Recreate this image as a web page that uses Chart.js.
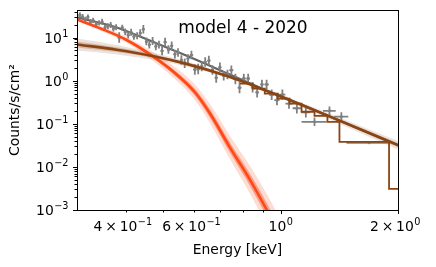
<!DOCTYPE html>
<html>
<head>
<meta charset="utf-8">
<script src="https://cdn.jsdelivr.net/npm/chart.js@4.4.1/dist/chart.umd.min.js"></script>
<style>
  html, body { margin: 0; padding: 0; background: #fff; }
</style>
</head>
<body>
<canvas id="spec" width="436" height="267"></canvas>
<script>
// thermal component (red) with its two confidence bands
const thermE = [0.30, 0.345, 0.40, 0.463, 0.537, 0.603, 0.659, 0.741, 0.834, 0.921, 0.994];
const thermV = [26.2, 16.2, 9.0, 4.0, 1.46, 0.53, 0.17, 0.028, 0.005, 0.001, 0.00026];
const thermOuterHi = [28.7, 18.2, 10.6, 5.04, 2.01, 0.80, 0.282, 0.0521, 0.01045, 0.00234, 0.000653];
const thermOuterLo = [23.9, 14.4, 7.66, 3.18, 1.06, 0.35, 0.102, 0.0150, 0.00239, 0.000427, 0.000104];
const thermInnerHi = [27.1, 16.9, 9.64, 4.44, 1.67, 0.637, 0.214, 0.0369, 0.0069, 0.00145, 0.000394];
const thermInnerLo = [25.3, 15.5, 8.39, 3.61, 1.27, 0.441, 0.135, 0.0212, 0.00362, 0.00069, 0.000172];

// power-law component (brown)
const plE = [0.30, 0.379, 0.472, 0.570, 0.732, 0.909, 1.054, 1.335, 2.05];
const plV = [6.9, 5.22, 3.68, 2.48, 1.26, 0.604, 0.355, 0.148, 0.029];
const plOuterHi = [9.5, 6.73, 4.43, 2.84, 1.38, 0.662, 0.398, 0.174, 0.0365];
const plOuterLo = [5.0, 4.06, 3.06, 2.16, 1.15, 0.551, 0.316, 0.126, 0.023];
const plInnerHi = [8.1, 5.93, 4.04, 2.65, 1.32, 0.632, 0.376, 0.160, 0.0325];
const plInnerLo = [5.9, 4.60, 3.36, 2.31, 1.21, 0.577, 0.335, 0.136, 0.0259];

// total model
const totE = [0.30, 0.379, 0.481, 0.588, 0.741, 0.909, 1.15, 1.335, 2.05];
const totV = [29.5, 17.1, 7.25, 3.43, 1.38, 0.618, 0.26, 0.148, 0.029];

// folded power law, binned (left bin edges, last = end)
const stepE = [0.786, 0.848, 0.910, 0.983, 1.054, 1.131, 1.221, 1.318, 1.415, 1.897, 2.1];
const stepV = [0.851, 0.652, 0.499, 0.381, 0.292, 0.190, 0.153, 0.111, 0.0381, 0.00308, 0.00308];

// observed spectrum
const dataE = [0.305, 0.31, 0.315, 0.32, 0.325, 0.33, 0.336, 0.342, 0.348, 0.354,
  0.36, 0.366, 0.372, 0.378, 0.385, 0.392, 0.399, 0.406, 0.413, 0.42,
  0.428, 0.436, 0.444, 0.452, 0.46, 0.469, 0.478, 0.487, 0.496, 0.505,
  0.515, 0.525, 0.535, 0.545, 0.556, 0.567, 0.578, 0.59, 0.602, 0.614,
  0.627, 0.64, 0.654, 0.668, 0.683, 0.698, 0.714, 0.73, 0.747, 0.765,
  0.784, 0.804, 0.825, 0.847, 0.87, 0.895, 0.92, 0.948, 0.978, 1.01,
  1.05, 1.10, 1.16, 1.221, 1.334, 1.431, 1.685];
const dataV = [33.4, 30.5, 26.4, 29.9, 23.3, 24.9, 20.4, 21.8, 23.3, 17.1,
  18.3, 19.6, 16.1, 17.3, 10.0, 16.9, 13.5, 11.4, 13.2, 10.6,
  11.0, 12.7, 15.6, 8.09, 6.82, 8.30, 6.25, 6.85, 4.90, 7.82,
  5.27, 6.41, 4.10, 4.50, 3.02, 2.53, 3.24, 3.92, 1.81, 1.86,
  2.13, 2.72, 2.92, 1.76, 1.17, 2.05, 1.29, 1.39, 1.75, 1.09,
  0.685, 1.12, 1.12, 0.697, 0.535, 0.818, 0.817, 0.470, 0.352, 0.474,
  0.292, 0.229, 0.185, 0.111, 0.200, 0.146, 0.0361];
const dataErr = [0.06, 0.06, 0.06, 0.06, 0.06, 0.06, 0.06, 0.06, 0.07, 0.07,
  0.07, 0.07, 0.07, 0.07, 0.12, 0.07, 0.08, 0.08, 0.08, 0.08,
  0.08, 0.09, 0.1, 0.09, 0.09, 0.09, 0.09, 0.09, 0.1, 0.1,
  0.1, 0.1, 0.1, 0.1, 0.11, 0.11, 0.1, 0.1, 0.12, 0.12,
  0.11, 0.11, 0.11, 0.11, 0.12, 0.11, 0.11, 0.11, 0.11, 0.12,
  0.13, 0.11, 0.11, 0.12, 0.12, 0.11, 0.11, 0.12, 0.12, 0.12,
  0.12, 0.12, 0.12, 0.1, 0.1, 0.1, 0];
const dataXErr = [0.0025, 0.0025, 0.0025, 0.0025, 0.0025, 0.0025, 0.0025, 0.0025, 0.0025, 0.0025,
  0.0025, 0.0025, 0.0025, 0.0025, 0.0035, 0.0035, 0.0035, 0.0035, 0.0035, 0.0035,
  0.0035, 0.0035, 0.0035, 0.0035, 0.0035, 0.0035, 0.0035, 0.0045, 0.0045, 0.0045,
  0.0045, 0.0045, 0.0045, 0.0045, 0.0045, 0.0045, 0.0045, 0.006, 0.006, 0.006,
  0.006, 0.006, 0.006, 0.006, 0.006, 0.006, 0.006, 0.006, 0.009, 0.009,
  0.009, 0.009, 0.009, 0.009, 0.009, 0.009, 0.012, 0.014, 0.015, 0.018,
  0.022, 0.027, 0.03, 0.09, 0.05, 0.06, 0.21];

// ticks: value -> [mantissa, exponent] for labelled ones
const xTicks = [0.4, 0.5, 0.6, 0.7, 0.8, 0.9, 1, 2];
const xTickLabels = { 0.4: ['4', '\u22121'], 0.6: ['6', '\u22121'], 1: ['', '0'], 2: ['2', '0'] };
const yTicks = [0.001, 0.002, 0.003, 0.004, 0.005, 0.006, 0.007, 0.008, 0.009,
  0.01, 0.02, 0.03, 0.04, 0.05, 0.06, 0.07, 0.08, 0.09,
  0.1, 0.2, 0.3, 0.4, 0.5, 0.6, 0.7, 0.8, 0.9,
  1, 2, 3, 4, 5, 6, 7, 8, 9, 10, 20, 30, 40];
const yTickLabels = { 0.001: ['', '\u22123'], 0.01: ['', '\u22122'], 0.1: ['', '\u22121'], 1: ['', '0'], 10: ['', '1'] };
const xMajor = [1, 2];
const yMajor = [0.001, 0.01, 0.1, 1, 10];

const FONT = 'DejaVu Sans';

function pts(xs, ys) {
  return xs.map((x, i) => ({ x: x, y: ys[i] }));
}

function band(label, xs, ys, order, fill, color) {
  return {
    label: label, data: pts(xs, ys), order: order,
    borderWidth: 0, pointRadius: 0, fill: fill, backgroundColor: color,
    cubicInterpolationMode: 'monotone'
  };
}

// "m × 10^e" like matplotlib's mathtext
function drawPow(ctx, lab, x, base, align) {
  const big = '13.9px ' + FONT, small = '9.7px ' + FONT;
  const gap = 2.8;
  ctx.font = big;
  const parts = lab[0] ? [lab[0], '\u00d7', '10'] : ['10'];
  const widths = parts.map(p => ctx.measureText(p).width);
  ctx.font = small;
  const we = ctx.measureText(lab[1]).width;
  const w = widths.reduce((s, v) => s + v, 0) + gap * 2 * (parts.length - 1) + we + 0.5;
  let cx = align === 'right' ? x - w : x - w / 2;
  ctx.textAlign = 'left';
  ctx.textBaseline = 'alphabetic';
  ctx.font = big;
  parts.forEach((p, i) => {
    ctx.fillText(p, cx, base);
    cx += widths[i] + (i < parts.length - 1 ? gap : 0);
  });
  ctx.font = small;
  ctx.fillText(lab[1], cx + 0.5, base - 6);
}

const errorBars = {
  id: 'errorBars',
  beforeDatasetDraw(chart, args) {
    if (chart.data.datasets[args.index].label !== 'data') return;
    const { ctx, chartArea: a } = chart;
    const x = chart.scales.x, y = chart.scales.y;
    ctx.save();
    ctx.beginPath();
    ctx.rect(a.left, a.top, a.right - a.left, a.bottom - a.top);
    ctx.clip();
    ctx.strokeStyle = '#808080';
    ctx.lineWidth = 1.8;
    dataE.forEach((e, i) => {
      const px = x.getPixelForValue(e);
      const py = y.getPixelForValue(dataV[i]);
      const f = Math.pow(10, dataErr[i]);
      ctx.beginPath();
      ctx.moveTo(px, y.getPixelForValue(dataV[i] * f));
      ctx.lineTo(px, y.getPixelForValue(dataV[i] / f));
      ctx.moveTo(x.getPixelForValue(e - dataXErr[i]), py);
      ctx.lineTo(x.getPixelForValue(e + dataXErr[i]), py);
      ctx.stroke();
    });
    ctx.restore();
  }
};

const frame = {
  id: 'frame',
  afterDraw(chart) {
    const { ctx, chartArea: a } = chart;
    const x = chart.scales.x, y = chart.scales.y;
    ctx.save();
    ctx.strokeStyle = '#000';
    ctx.lineWidth = 1;
    ctx.strokeRect(Math.round(a.left) + 0.5, Math.round(a.top) + 0.5,
      Math.round(a.right - a.left), Math.round(a.bottom - a.top));
    ctx.beginPath();
    xTicks.forEach(v => {
      const px = Math.round(x.getPixelForValue(v)) + 0.5;
      const len = xMajor.includes(v) ? 4 : 2.5;
      ctx.moveTo(px, a.bottom);
      ctx.lineTo(px, a.bottom + len);
    });
    yTicks.forEach(v => {
      const py = Math.round(y.getPixelForValue(v)) + 0.5;
      const len = yMajor.includes(v) ? 4 : 2.5;
      ctx.moveTo(a.left, py);
      ctx.lineTo(a.left - len, py);
    });
    ctx.stroke();

    ctx.fillStyle = '#000';
    xTicks.forEach(v => {
      if (xTickLabels[v]) drawPow(ctx, xTickLabels[v], x.getPixelForValue(v), a.bottom + 21, 'center');
    });
    yTicks.forEach(v => {
      if (yTickLabels[v]) drawPow(ctx, yTickLabels[v], a.left - 8.5, y.getPixelForValue(v) + 5, 'right');
    });

    ctx.font = '17px ' + FONT;
    ctx.textAlign = 'center';
    ctx.textBaseline = 'alphabetic';
    ctx.fillText('model 4 - 2020', 243, 33);
    ctx.restore();
  }
};

new Chart(document.getElementById('spec'), {
  type: 'line',
  data: {
    datasets: [
      band('thermOuterHi', thermE, thermOuterHi, 10, '+1', 'rgba(250,170,145,0.4)'),
      band('thermOuterLo', thermE, thermOuterLo, 10, false, 'transparent'),
      band('thermInnerHi', thermE, thermInnerHi, 9, '+1', 'rgba(240,110,80,0.55)'),
      band('thermInnerLo', thermE, thermInnerLo, 9, false, 'transparent'),
      band('plOuterHi', plE, plOuterHi, 8, '+1', 'rgba(175,120,90,0.22)'),
      band('plOuterLo', plE, plOuterLo, 8, false, 'transparent'),
      band('plInnerHi', plE, plInnerHi, 7, '+1', 'rgba(160,95,60,0.3)'),
      band('plInnerLo', plE, plInnerLo, 7, false, 'transparent'),
      {
        label: 'total', data: pts(totE, totV), order: 6,
        borderColor: '#646464', borderWidth: 2.2, pointRadius: 0, fill: false,
        cubicInterpolationMode: 'monotone'
      },
      {
        label: 'data', data: pts(dataE, dataV), order: 5, showLine: false,
        pointRadius: 1.5, pointBackgroundColor: '#808080', pointBorderWidth: 0
      },
      {
        label: 'thermal', data: pts(thermE, thermV), order: 4,
        borderColor: '#ff4814', borderWidth: 2.6, pointRadius: 0, fill: false,
        cubicInterpolationMode: 'monotone'
      },
      {
        label: 'powerlaw', data: pts(plE, plV), order: 3,
        borderColor: '#8b4513', borderWidth: 2.6, pointRadius: 0, fill: false,
        cubicInterpolationMode: 'monotone'
      },
      {
        label: 'folded', data: pts(stepE, stepV), order: 2,
        borderColor: '#8b4513', borderWidth: 1.8, pointRadius: 0, fill: false,
        stepped: 'before'
      }
    ]
  },
  options: {
    responsive: false,
    devicePixelRatio: 1,
    animation: false,
    layout: { padding: { left: 0, right: 38, top: 10, bottom: 0 } },
    plugins: { legend: { display: false }, tooltip: { enabled: false } },
    scales: {
      x: {
        type: 'logarithmic', min: 0.302, max: 2,
        grid: { display: false, drawTicks: false },
        border: { display: false },
        afterBuildTicks: s => { s.ticks = xTicks.map(v => ({ value: v })); },
        afterFit: s => { s.height = 57; },
        ticks: { autoSkip: false, maxRotation: 0, callback: () => '' },
        title: {
          display: true, text: 'Energy [keV]', color: '#000',
          font: { family: FONT, size: 13.9 }, padding: { top: 0, bottom: 8 }
        }
      },
      y: {
        type: 'logarithmic', min: 0.001, max: 43,
        grid: { display: false, drawTicks: false },
        border: { display: false },
        afterBuildTicks: s => { s.ticks = yTicks.map(v => ({ value: v })); },
        afterFit: s => { s.width = 77; },
        ticks: { autoSkip: false, callback: () => '' },
        title: {
          display: true, text: 'Counts/s/cm²', color: '#000',
          font: { family: FONT, size: 13.9 }, padding: { top: 7, bottom: 0 }
        }
      }
    }
  },
  plugins: [errorBars, frame]
});
</script>
</body>
</html>
